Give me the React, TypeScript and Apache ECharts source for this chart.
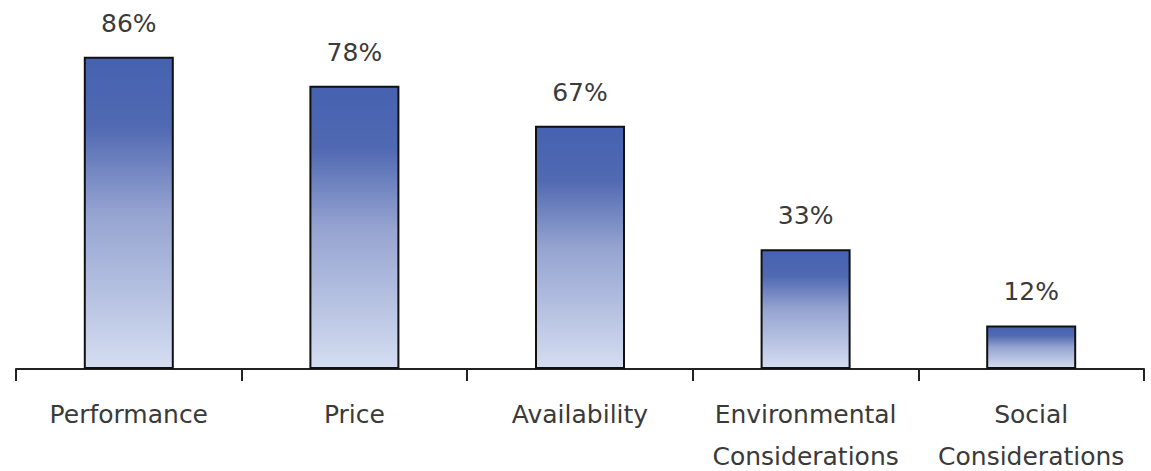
import React, { useEffect, useRef } from "react";
import * as echarts from "echarts";

const categories = ["Performance", "Price", "Availability", "Environmental\nConsiderations", "Social\nConsiderations"];
const values = [86, 78, 67, 33, 12];

export default function App() {
  const ref = useRef<HTMLDivElement>(null);
  useEffect(() => {
    const chart = echarts.init(ref.current!, null, { renderer: "svg" });
    const font = "DejaVu Sans";
    chart.setOption({
      animation: false,
      grid: { left: 16, right: 7, top: 6, bottom: 102, containLabel: false, outerBoundsMode: "none" },
      xAxis: {
        type: "category",
        data: categories,
        axisLine: { lineStyle: { color: "#222", width: 2 } },
        axisTick: { show: true, length: 12, lineStyle: { color: "#222", width: 2 } },
        axisLabel: {
          color: "#3a3a3a",
          fontFamily: font,
          fontSize: 25,
          margin: 24,
          lineHeight: 42,
          interval: 0,
        },
      },
      yAxis: {
        type: "value",
        min: 0,
        max: 100,
        show: false,
        splitLine: { show: false },
      },
      series: [
        {
          type: "bar",
          data: values,
          barWidth: 90,
          itemStyle: {
            borderColor: "#111",
            borderWidth: 2,
            color: new echarts.graphic.LinearGradient(0, 0, 0, 1, [
              { offset: 0, color: "#4662b0" },
              { offset: 0.22, color: "#5069b2" },
              { offset: 0.5, color: "#95a3d0" },
              { offset: 1, color: "#d4ddf1" },
            ]),
          },
          label: {
            show: true,
            position: "top",
            distance: 21,
            formatter: "{c}%",
            color: "#3a3a3a",
            fontFamily: font,
            fontSize: 25,
          },
        },
      ],
    });
    return () => chart.dispose();
  }, []);
  return <div ref={ref} style={{ width: 1151, height: 471, position: "absolute", left: 0, top: 0 }} />;
}
